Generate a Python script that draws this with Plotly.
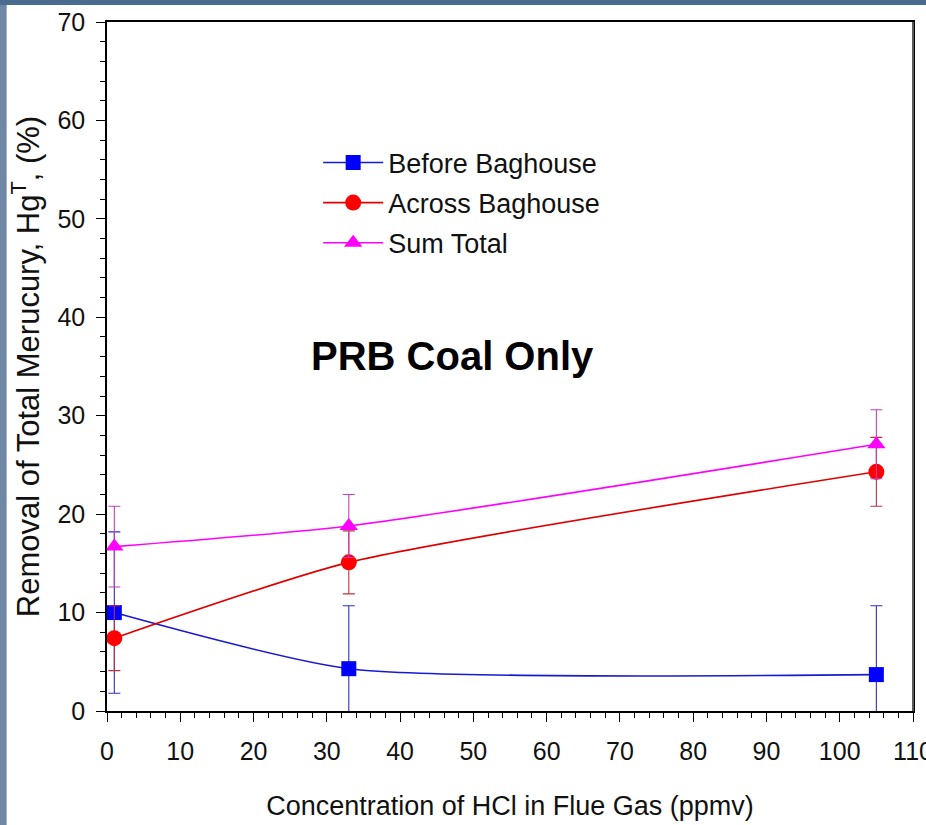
import plotly.graph_objects as go

# ---- data ----
hcl_ppmv = [1, 33, 105]

before_baghouse = [10.0, 4.3, 3.7]
before_err = [8.2, 6.4, 7.0]

across_baghouse = [7.4, 15.1, 24.3]
across_err = [3.3, 3.2, 3.5]

sum_total = [16.7, 18.8, 27.1]
sum_err = [4.1, 3.2, 3.5]

x_ticks = [0, 10, 20, 30, 40, 50, 60, 70, 80, 90, 100, 110]
y_ticks = [0, 10, 20, 30, 40, 50, 60, 70]

FONT = "Liberation Sans, Arial, Helvetica, sans-serif"

fig = go.Figure()

series = [
    ("Before Baghouse", before_baghouse, before_err, "#1a1ad0", "#0000ff", "#3030c0", "square", 15),
    ("Across Baghouse", across_baghouse, across_err, "#e00000", "#ff0000", "#c03040", "circle", 16),
    ("Sum Total", sum_total, sum_err, "#ff00ff", "#ff00ff", "#c040c0", "triangle-up", 16),
]

for name, vals, errs, lc, mc, ec, sym, ms in series:
    fig.add_trace(go.Scatter(
        x=hcl_ppmv, y=vals, name=name, legendgroup=name,
        mode="lines+markers",
        line=dict(color=lc, width=1.6, shape="spline", smoothing=0.6),
        marker=dict(symbol=sym, size=ms, color=mc, line=dict(width=0)),
        error_y=dict(type="data", array=errs, visible=True,
                     color=ec, thickness=1.1, width=6),
        cliponaxis=True,
    ))

fig.add_annotation(
    x=47.2, y=36.1, xref="x", yref="y",
    text="<b>PRB Coal Only</b>", showarrow=False,
    font=dict(family=FONT, size=40, color="#000000"),
)

# decorative slide frame (left & top bands)
fig.add_shape(type="rect", xref="paper", yref="paper",
              x0=-0.14, x1=-0.1245, y0=-0.2, y1=1.04,
              fillcolor="#7088a8", line=dict(width=0), layer="above")
fig.add_shape(type="rect", xref="paper", yref="paper",
              x0=-0.14, x1=1.03, y0=1.0245, y1=1.04,
              fillcolor="#4a6a90", line=dict(width=0), layer="above")
# right frame edge drawn in grey as in the reference
fig.add_shape(type="line", xref="paper", yref="paper",
              x0=1, x1=1, y0=0, y1=1,
              line=dict(color="#5a5a5a", width=2), layer="above")

axis_common = dict(
    showline=True, linecolor="#000000", linewidth=1.5, mirror=True,
    showgrid=False, zeroline=False, automargin=False,
    ticks="outside", tickcolor="#000000", tickwidth=1.3, ticklen=9,
    tickfont=dict(family=FONT, size=25, color="#111111"),
    minor=dict(ticks="outside", ticklen=5, dtick=2, tickcolor="#000000",
               tickwidth=1.1, showgrid=False),
)

fig.update_layout(
    width=926, height=825,
    margin=dict(l=107, r=13, t=22, b=114),
    paper_bgcolor="#ffffff", plot_bgcolor="#ffffff",
    font=dict(family=FONT, color="#111111"),
    xaxis=dict(range=[0, 110], tickvals=x_ticks, ticklabelstandoff=8,
               ticklabeloverflow="allow",
               title=dict(text="Concentration of HCl in Flue Gas (ppmv)",
                          font=dict(family=FONT, size=27, color="#111111"),
                          standoff=32),
               **axis_common),
    yaxis=dict(range=[0, 70], tickvals=y_ticks, ticklabelstandoff=6,
               title=dict(text="Removal of Total Merucury, Hg<sup>T</sup>, (%)",
                          font=dict(family=FONT, size=31, color="#111111"),
                          standoff=9),
               **axis_common),
    legend=dict(x=0.262, y=0.831, xanchor="left", yanchor="top",
                bgcolor="rgba(0,0,0,0)", borderwidth=0,
                font=dict(family=FONT, size=27, color="#111111"),
                tracegroupgap=2, itemwidth=60),
    showlegend=True,
)

fig.write_html("out.html", config={"displayModeBar": False},
               post_script="document.body.style.margin='0';")
